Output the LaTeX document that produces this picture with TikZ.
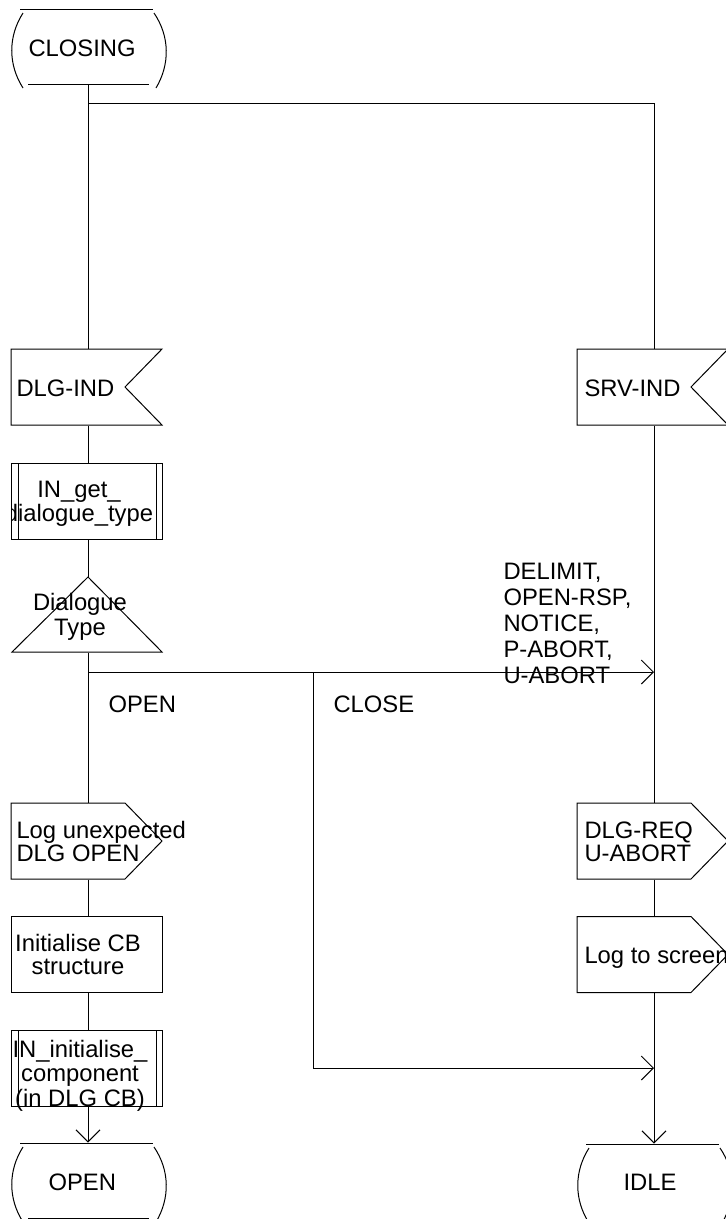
\documentclass[tikz,border=0pt]{standalone}
\usepackage{fontspec}
\setmainfont{Liberation Sans}
\usetikzlibrary{arrows.meta,calc}
\newcommand\drawstate[1]{%
  \draw ($(#1.center)+(-68,-37.5)$) -- ($(#1.center)+(65,-37.5)$);
  \draw ($(#1.center)+(-60,37.5)$) -- ($(#1.center)+(61,37.5)$);
  \draw ($(#1.center)+(-65,-33.5)$) .. controls ($(#1.center)+(-80,-10)$) and ($(#1.center)+(-80,18)$) .. ($(#1.center)+(-65,41.5)$);
  \draw ($(#1.center)+(66,-33.5)$) .. controls ($(#1.center)+(82,-10)$) and ($(#1.center)+(82,18)$) .. ($(#1.center)+(68,41.5)$);}
\newcommand\drawinput[1]{%
  \draw ($(#1.center)+(-77,-38)$) -- ($(#1.center)+(74,-38)$) -- ($(#1.center)+(37,0)$) -- ($(#1.center)+(74,38)$) -- ($(#1.center)+(-77,38)$) -- cycle;}
\newcommand\drawoutput[1]{%
  \draw ($(#1.center)+(-77,-38)$) -- ($(#1.center)+(37,-38)$) -- ($(#1.center)+(74,0)$) -- ($(#1.center)+(37,38)$) -- ($(#1.center)+(-77,38)$) -- cycle;}
\newcommand\drawtask[1]{%
  \draw ($(#1.center)+(-77,-38)$) rectangle ($(#1.center)+(74,38)$);}
\newcommand\drawproc[1]{%
  \draw ($(#1.center)+(-77,-38)$) rectangle ($(#1.center)+(74,38)$);
  \draw ($(#1.center)+(-70,-38)$) -- ($(#1.center)+(-70,38)$);
  \draw ($(#1.center)+(68,-38)$) -- ($(#1.center)+(68,38)$);}
\newcommand\drawdecision[1]{%
  \draw ($(#1.center)+(0,-37.5)$) -- ($(#1.center)+(74,37.5)$) -- ($(#1.center)+(-76,37.5)$) -- cycle;}
\begin{document}
\begin{tikzpicture}[x=1pt,y=-1pt,line width=1pt,
  shp/.style={draw=none,inner sep=0pt,minimum width=151pt,minimum height=76pt},
  stshp/.style={draw=none,inner sep=0pt,minimum width=133pt,minimum height=75pt},
  dshp/.style={draw=none,inner sep=0pt,minimum width=150pt,minimum height=75pt},
  txt/.style={inner sep=0pt,font=\fontsize{23.8pt}{23.5pt}\selectfont},
  arr/.style={-{Straight Barb[length=12pt,width=24pt]}}]
\useasboundingbox (0,0) rectangle (726,1219);
% shapes
\node[stshp] (closing) at (88,46.5) {};
\node[shp] (dlgind) at (88,387) {};
\node[shp] (srvind) at (654,387) {};
\node[shp] (getdt) at (88,501) {};
\node[dshp] (dtype) at (88,614.5) {};
\node[shp] (logdlg) at (88,841) {};
\node[shp] (dlgreq) at (654,841) {};
\node[shp] (initcb) at (88,954.5) {};
\node[shp] (logscr) at (654,954.5) {};
\node[shp] (initcomp) at (88,1068.5) {};
\node[stshp] (open) at (88,1180.5) {};
\node[stshp] (idle) at (654,1181.5) {};
\drawstate{closing}
\drawinput{dlgind}
\drawinput{srvind}
\drawproc{getdt}
\drawdecision{dtype}
\drawoutput{logdlg}
\drawoutput{dlgreq}
\drawtask{initcb}
\drawoutput{logscr}
\drawproc{initcomp}
\drawstate{open}
\drawstate{idle}
% coordinates
\coordinate (split1) at (88,103);
\coordinate (split2) at (88,672);
\coordinate (split3) at (313,672);
\coordinate (join1) at (654,672);
\coordinate (join2) at (654,1068);
% connectors
\draw (closing.south) -- (dlgind.north);
\draw (split1) -| (srvind.north);
\draw (dlgind.south) -- (getdt.north);
\draw (getdt.south) -- (dtype.north);
\draw (dtype.south) -- (logdlg.north);
\draw[arr] (split2) -- (join1);
\draw[arr] (split3) |- (join2);
\draw (srvind.south) -- (dlgreq.north);
\draw (dlgreq.south) -- (logscr.north);
\draw[arr] (logscr.south) -- (idle.north);
\draw (logdlg.south) -- (initcb.north);
\draw (initcb.south) -- (initcomp.north);
\draw[arr] (initcomp.south) -- (open.north);
% texts (multi-line: base anchor = last line)
\node[txt,anchor=base west] (closing-t) at (28,56) {CLOSING};
\node[txt,anchor=base west] (dlgind-t) at (16,396) {DLG-IND};
\node[txt,anchor=base west] (srvind-t) at (584,396) {SRV-IND};
\begin{scope}
\clip (11,440) rectangle (300,560);
\node[txt,anchor=base,align=center,font=\fontsize{23.8pt}{24pt}\selectfont] (getdt-t) at (79,521) {IN\_get\_\\dialogue\_type};
\end{scope}
\node[txt,anchor=base,align=center,font=\fontsize{23.8pt}{25pt}\selectfont] (dtype-t) at (80,635) {Dialogue\\Type};
\node[txt,anchor=base west,align=left,font=\fontsize{23.8pt}{25.8pt}\selectfont] (sig-t) at (503,683) {DELIMIT,\\OPEN-RSP,\\NOTICE,\\P-ABORT,\\U-ABORT};
\node[txt,anchor=base west] (open-lbl) at (108,712) {OPEN};
\node[txt,anchor=base west] (close-lbl) at (333,712) {CLOSE};
\node[txt,anchor=base west,align=left,font=\fontsize{23.8pt}{23pt}\selectfont] (logdlg-t) at (16,861) {Log unexpected\\DLG OPEN};
\node[txt,anchor=base west,align=left,font=\fontsize{23.8pt}{23pt}\selectfont] (dlgreq-t) at (584,861) {DLG-REQ\\U-ABORT};
\node[txt,anchor=base,align=center,font=\fontsize{23.8pt}{23pt}\selectfont] (initcb-t) at (78,974) {Initialise CB\\structure};
\node[txt,anchor=base west] (logscr-t) at (584,963) {Log to screen};
\node[txt,anchor=base,align=center,font=\fontsize{23.8pt}{24.5pt}\selectfont] (initcomp-t) at (80,1106) {IN\_initialise\_\\component\\(in DLG CB)};
\node[txt,anchor=base west] (open-t) at (48,1190) {OPEN};
\node[txt,anchor=base west] (idle-t) at (623,1190) {IDLE};
\end{tikzpicture}
\end{document}
